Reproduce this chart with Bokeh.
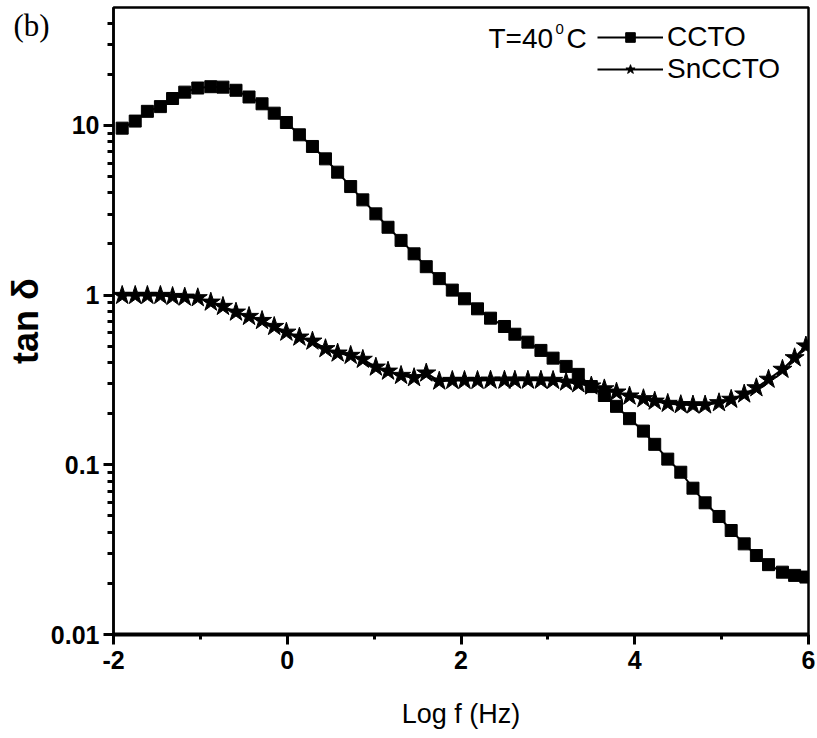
from bokeh.plotting import figure
from bokeh.models import (Range1d, FixedTicker, Legend, LegendItem, Label)
from bokeh.embed import file_html
from bokeh.resources import INLINE

# ---- data ----
log_f = [-1.90, -1.75, -1.61, -1.46, -1.32, -1.18, -1.03, -0.88, -0.74, -0.59,
         -0.44, -0.29, -0.15, -0.01, 0.14, 0.29, 0.44, 0.58, 0.73, 0.87,
         1.02, 1.16, 1.31, 1.46, 1.60, 1.75, 1.90, 2.04, 2.19, 2.34,
         2.50, 2.62, 2.77, 2.92, 3.06, 3.21, 3.35, 3.50, 3.65, 3.79,
         3.94, 4.10, 4.23, 4.38, 4.53, 4.67, 4.81, 4.97, 5.11, 5.26,
         5.40, 5.54, 5.70, 5.84, 5.97]

tan_ccto = [9.63, 10.6, 12.1, 12.9, 14.4, 15.7, 16.6, 16.9, 16.8, 16.1,
            14.7, 13.4, 11.8, 10.4, 8.80, 7.51, 6.35, 5.30, 4.36, 3.64,
            3.01, 2.51, 2.10, 1.75, 1.47, 1.25, 1.07, 0.951, 0.830, 0.731,
            0.653, 0.588, 0.528, 0.472, 0.425, 0.380, 0.341, 0.289, 0.256, 0.221,
            0.187, 0.158, 0.132, 0.108, 0.0904, 0.0728, 0.0597, 0.0496, 0.0410, 0.0342,
            0.0292, 0.0258, 0.0233, 0.0223, 0.0218]

tan_snccto = [0.995, 0.995, 0.995, 0.995, 0.981, 0.972, 0.964, 0.908, 0.857, 0.793,
              0.748, 0.708, 0.653, 0.604, 0.565, 0.535, 0.483, 0.455, 0.441, 0.418,
              0.376, 0.356, 0.336, 0.326, 0.347, 0.311, 0.314, 0.314, 0.314, 0.315,
              0.315, 0.315, 0.315, 0.315, 0.314, 0.307, 0.300, 0.291, 0.280, 0.268,
              0.254, 0.245, 0.237, 0.230, 0.226, 0.225, 0.225, 0.232, 0.243, 0.261,
              0.284, 0.319, 0.365, 0.427, 0.501]

series_names = ["CCTO", "SnCCTO"]
x_ticks = [-2, 0, 2, 4, 6]
x_tick_labels = ["-2", "0", "2", "4", "6"]
x_minor_ticks = [-1, 1, 3, 5]
y_ticks = [0.01, 0.1, 1, 10]
y_tick_labels = ["0.01", "0.1", "1", "10"]
y_minor_ticks = [0.02, 0.03, 0.04, 0.05, 0.06, 0.07, 0.08, 0.09,
                 0.2, 0.3, 0.4, 0.5, 0.6, 0.7, 0.8, 0.9,
                 2, 3, 4, 5, 6, 7, 8, 9, 20, 30, 40]
x_label = "Log f (Hz)"
y_label = "tan \u03b4"
panel_tag = "(b)"
temp_text = ["T=40", "0", "C"]

FONT = "'Liberation Sans', Arial, sans-serif"

p = figure(width=817, height=738, output_backend="svg", toolbar_location=None,
           x_range=Range1d(-2, 6), y_range=Range1d(0.01, 49.5),
           y_axis_type="log",
           min_border_left=113, min_border_right=9,
           min_border_top=7, min_border_bottom=104)

p.background_fill_color = "white"
p.border_fill_color = "white"
p.outline_line_color = "black"
p.outline_line_width = 2.5
p.xgrid.visible = False
p.ygrid.visible = False

# panel tag "(b)" drawn as the plot title, pulled down into the top-left corner
p.title.text = panel_tag
p.title.text_font = "'Liberation Serif', 'Times New Roman', serif"
p.title.text_font_size = "31px"
p.title.text_font_style = "normal"
p.title.text_color = "black"
p.title.align = "left"
p.title.vertical_align = "bottom"
p.title.standoff = -70
p.title.offset = -100

# x axis
xa = p.xaxis[0]
xa.ticker = FixedTicker(ticks=x_ticks, minor_ticks=x_minor_ticks)
xa.major_label_overrides = {t: l for t, l in zip(x_ticks, x_tick_labels)}
xa.axis_line_width = 4
xa.major_tick_line_width = 3
xa.minor_tick_line_width = 3
xa.major_tick_out = 10
xa.major_tick_in = 0
xa.minor_tick_out = 5
xa.minor_tick_in = 0
xa.major_label_standoff = 6
xa.major_label_text_font = FONT
xa.major_label_text_font_style = "bold"
xa.major_label_text_font_size = "25px"
xa.major_label_text_color = "black"
xa.axis_label = x_label
xa.axis_label_text_font = FONT
xa.axis_label_text_font_style = "normal"
xa.axis_label_text_font_size = "27px"
xa.axis_label_text_color = "black"
xa.axis_label_standoff = 27

# y axis
ya = p.yaxis[0]
ya.ticker = FixedTicker(ticks=y_ticks, minor_ticks=y_minor_ticks)
ya.major_label_overrides = {t: l for t, l in zip(y_ticks, y_tick_labels)}
ya.axis_line_width = 2.5
ya.major_tick_line_width = 3
ya.minor_tick_line_width = 3
ya.major_tick_out = 10
ya.major_tick_in = 0
ya.minor_tick_out = 6
ya.minor_tick_in = 0
ya.major_label_standoff = 4
ya.major_label_text_font = FONT
ya.major_label_text_font_style = "bold"
ya.major_label_text_font_size = "25px"
ya.major_label_text_color = "black"
ya.axis_label = y_label
ya.axis_label_text_font = FONT
ya.axis_label_text_font_style = "bold"
ya.axis_label_text_font_size = "36px"
ya.axis_label_text_color = "black"
ya.axis_label_standoff = 2

# series
l1 = p.line(log_f, tan_ccto, line_color="black", line_width=2)
s1 = p.scatter(log_f, tan_ccto, marker="square", size=12,
               fill_color="black", line_color="black")
l2 = p.line(log_f, tan_snccto, line_color="black", line_width=2)
s2 = p.scatter(log_f, tan_snccto, marker="star", size=20,
               fill_color="black", line_color="black")

legend = Legend(items=[LegendItem(label=series_names[0], renderers=[l1, s1]),
                       LegendItem(label=series_names[1], renderers=[l2, s2])],
                location=(484, 549))
legend.padding = 0
legend.margin = 0
legend.spacing = 0
legend.glyph_width = 66
legend.glyph_height = 24
legend.label_height = 24
legend.label_standoff = 4
legend.border_line_alpha = 0
legend.background_fill_alpha = 0
legend.label_text_font = FONT
legend.label_text_font_size = "28px"
legend.label_text_color = "black"
p.add_layout(legend)

# temperature label with superscript
p.add_layout(Label(x=488 - 113, y=634 - 38, x_units="screen", y_units="screen",
                   text=temp_text[0], text_font=FONT, text_font_size="28px",
                   text_baseline="alphabetic", text_color="black"))
p.add_layout(Label(x=555 - 113, y=634 - 28, x_units="screen", y_units="screen",
                   text=temp_text[1], text_font=FONT, text_font_size="15px",
                   text_baseline="alphabetic", text_color="black"))
p.add_layout(Label(x=566 - 113, y=634 - 38, x_units="screen", y_units="screen",
                   text=temp_text[2], text_font=FONT, text_font_size="28px",
                   text_baseline="alphabetic", text_color="black"))

open("out.html", "w").write(file_html(p, INLINE))
